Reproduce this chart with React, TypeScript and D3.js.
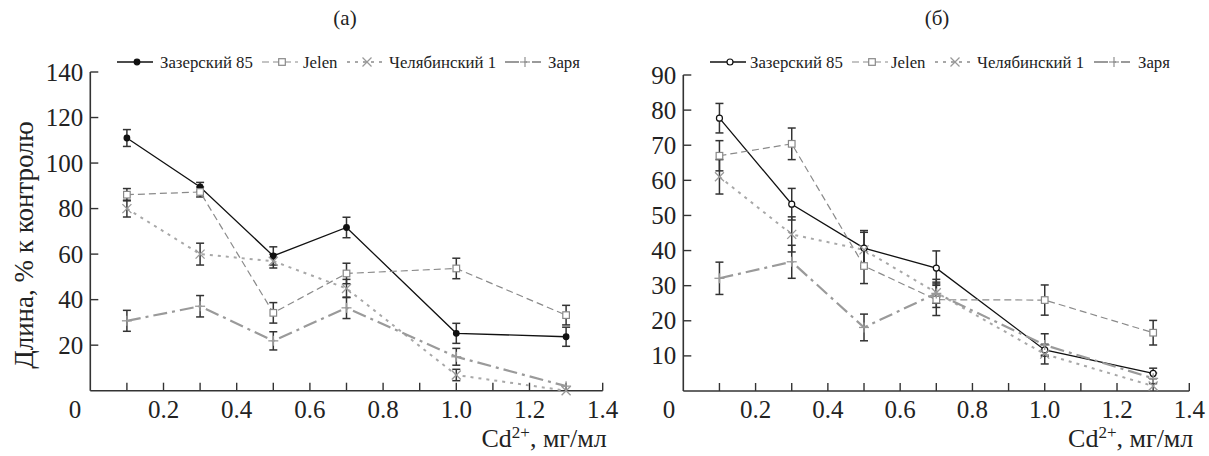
import React from "react";
import * as d3 from "d3";

const doses = [0.1, 0.3, 0.5, 0.7, 1.0, 1.3];
const seriesNames = ["Зазерский 85", "Jelen", "Челябинский 1", "Заря"];

// Panel (а)
const aZazersky = [111, 89.5, 59.2, 71.7, 25.2, 23.7];
const aZazerskyErr = [3.7, 2, 4, 4.5, 4.4, 4.2];
const aJelen = [86.1, 87.3, 34.2, 51.5, 53.7, 33.2];
const aJelenErr = [2.7, 2.2, 4.5, 4.5, 4.5, 4.3];
const aChel = [80, 60, 56.9, 44.9, 6.9, 0];
const aChelErr = [3.7, 4.8, 3, 4, 2.5, 0];
const aZarya = [30.7, 37.1, 21.9, 36.4, 14.9, 2];
const aZaryaErr = [4.6, 4.7, 4, 4.7, 3.7, 0];

// Panel (б)
const bZazersky = [77.7, 53.2, 40.7, 35, 11.7, 5];
const bZazerskyErr = [4.2, 4.5, 5, 4.9, 1.5, 1.5];
const bJelen = [67, 70.4, 35.6, 26, 25.9, 16.6];
const bJelenErr = [4.3, 4.5, 5, 4.5, 4.3, 3.5];
const bChel = [61, 44.6, 40.2, 28, 10.5, 1.4];
const bChelErr = [4.9, 5, 5, 3, 2.8, 0];
const bZarya = [32.1, 36.8, 18.1, 27.8, 13.1, 3.6];
const bZaryaErr = [4.6, 4.7, 3.8, 4, 3.2, 1.5];

const xTicksMinor = d3.range(1, 15).map((i) => i / 10);
const xTickLabels = [0.2, 0.4, 0.6, 0.8, 1.0, 1.2, 1.4];
const aYTicks = [20, 40, 60, 80, 100, 120, 140];
const bYTicks = [10, 20, 30, 40, 50, 60, 70, 80, 90];

const FONT = '"Liberation Serif", "Times New Roman", serif';
const AX = "#333";
const TXT = "#222";

const styles = [
  { stroke: "#111", width: 1.3, dash: "", marker: "circle" },
  { stroke: "#8a8a8a", width: 1.2, dash: "7,4", marker: "square" },
  { stroke: "#a8a8a8", width: 2, dash: "3,5", marker: "x" },
  { stroke: "#9a9a9a", width: 2.2, dash: "14,5,3,5", marker: "plus" },
];

function T({ children, size, ...rest }: any) {
  return (
    <text fill={TXT} fontSize={size} style={{ fontFamily: FONT }} {...rest}>
      {children}
    </text>
  );
}

function Marker({ type, x, y, open }: any) {
  if (type === "circle")
    return <circle cx={x} cy={y} r={open ? 3 : 2.8} fill={open ? "#fff" : "#111"} stroke="#111" strokeWidth={1.2} />;
  if (type === "square")
    return <rect x={x - 3.3} y={y - 3.3} width={6.6} height={6.6} fill="#fff" stroke="#888" strokeWidth={1.2} />;
  if (type === "x")
    return (
      <g stroke="#999" strokeWidth={1.3}>
        <line x1={x - 4.5} y1={y - 4.5} x2={x + 4.5} y2={y + 4.5} />
        <line x1={x - 4.5} y1={y + 4.5} x2={x + 4.5} y2={y - 4.5} />
      </g>
    );
  return (
    <g stroke="#999" strokeWidth={1.3}>
      <line x1={x - 5} y1={y} x2={x + 5} y2={y} />
      <line x1={x} y1={y - 5} x2={x} y2={y + 5} />
    </g>
  );
}

function Panel({ title, titleX, x0, x1, y0, y1, yMax, yTicks, data, errs, openCircle, legendX, legendTextX, zeroX, showYLabel }: any) {
  const x = d3.scaleLinear().domain([0, 1.4]).range([x0, x1]);
  const y = d3.scaleLinear().domain([0, yMax]).range([y0, y1]);
  const line = d3
    .line<number>()
    .x((_, i) => x(doses[i]))
    .y((d) => y(d));
  return (
    <g>
      <T x={titleX} y={25} size={21} textAnchor="middle">{title}</T>
      {seriesNames.map((n, i) => {
        const st = styles[i];
        const lx = legendX[i];
        return (
          <g key={n}>
            <line x1={lx} x2={lx + 36} y1={62} y2={62} stroke={st.stroke} strokeWidth={st.width} strokeDasharray={st.dash} />
            <Marker type={st.marker} x={lx + 20} y={62} open={openCircle} />
            <T x={legendTextX[i]} y={67.5} size={16.8}>{n}</T>
          </g>
        );
      })}
      <line x1={x0} x2={x0} y1={y1} y2={y0} stroke={AX} strokeWidth={1.6} />
      <line x1={x0} x2={x1} y1={y0} y2={y0} stroke={AX} strokeWidth={1.6} />
      {yTicks.map((t: number) => (
        <g key={t}>
          <line x1={x0} x2={x0 + 8} y1={y(t)} y2={y(t)} stroke={AX} strokeWidth={1.4} />
          <T x={x0 - 7} y={y(t) + 8.5} size={25} textAnchor="end">{t}</T>
        </g>
      ))}
      {xTicksMinor.map((t) => (
        <line key={t} x1={x(t)} x2={x(t)} y1={y0} y2={y0 - 8} stroke={AX} strokeWidth={1.4} />
      ))}
      {xTickLabels.map((t) => (
        <T key={t} x={x(t)} y={418} size={25} textAnchor="middle">{t.toFixed(1)}</T>
      ))}
      <T x={zeroX} y={418} size={25} textAnchor="middle">0</T>
      <T x={x1 + 4} y={447} size={26} textAnchor="end">
        Cd<tspan dy={-9} fontSize={17}>2+</tspan><tspan dy={9}>, мг/мл</tspan>
      </T>
      {showYLabel && (
        <T transform={`translate(33,245) rotate(-90)`} size={27} textAnchor="middle">Длина, % к контролю</T>
      )}
      {data.map((vals: number[], si: number) =>
        vals.map((v, i) => {
          const e = errs[si][i];
          if (!e) return null;
          const cx = x(doses[i]);
          return (
            <g key={`e${si}-${i}`} stroke="#333" strokeWidth={1.5}>
              <line x1={cx} x2={cx} y1={y(v - e)} y2={y(v + e)} />
              <line x1={cx - 4} x2={cx + 4} y1={y(v - e)} y2={y(v - e)} />
              <line x1={cx - 4} x2={cx + 4} y1={y(v + e)} y2={y(v + e)} />
            </g>
          );
        })
      )}
      {data.map((vals: number[], si: number) => (
        <path key={`l${si}`} d={line(vals) || ""} fill="none" stroke={styles[si].stroke} strokeWidth={styles[si].width} strokeDasharray={styles[si].dash} />
      ))}
      {data.map((vals: number[], si: number) =>
        vals.map((v, i) => <Marker key={`m${si}-${i}`} type={styles[si].marker} x={x(doses[i])} y={y(v)} open={openCircle} />)
      )}
    </g>
  );
}

export default function App() {
  return (
    <svg width={1209} height={456} style={{ position: "absolute", left: 0, top: 0, background: "#fff" }}>
      <Panel
        title="(а)"
        titleX={345}
        x0={90.3}
        x1={602.7}
        y0={390.7}
        y1={72}
        yMax={140}
        yTicks={aYTicks}
        data={[aZazersky, aJelen, aChel, aZarya]}
        errs={[aZazerskyErr, aJelenErr, aChelErr, aZaryaErr]}
        openCircle={false}
        legendX={[117, 262, 347, 505]}
        legendTextX={[160, 303, 389, 548]}
        zeroX={75}
        showYLabel={true}
      />
      <Panel
        title="(б)"
        titleX={937}
        x0={683.3}
        x1={1189.3}
        y0={391}
        y1={75}
        yMax={90}
        yTicks={bYTicks}
        data={[bZazersky, bJelen, bChel, bZarya]}
        errs={[bZazerskyErr, bJelenErr, bChelErr, bZaryaErr]}
        openCircle={true}
        legendX={[710, 852, 935, 1094]}
        legendTextX={[750, 891, 977, 1138]}
        zeroX={669}
        showYLabel={false}
      />
    </svg>
  );
}
